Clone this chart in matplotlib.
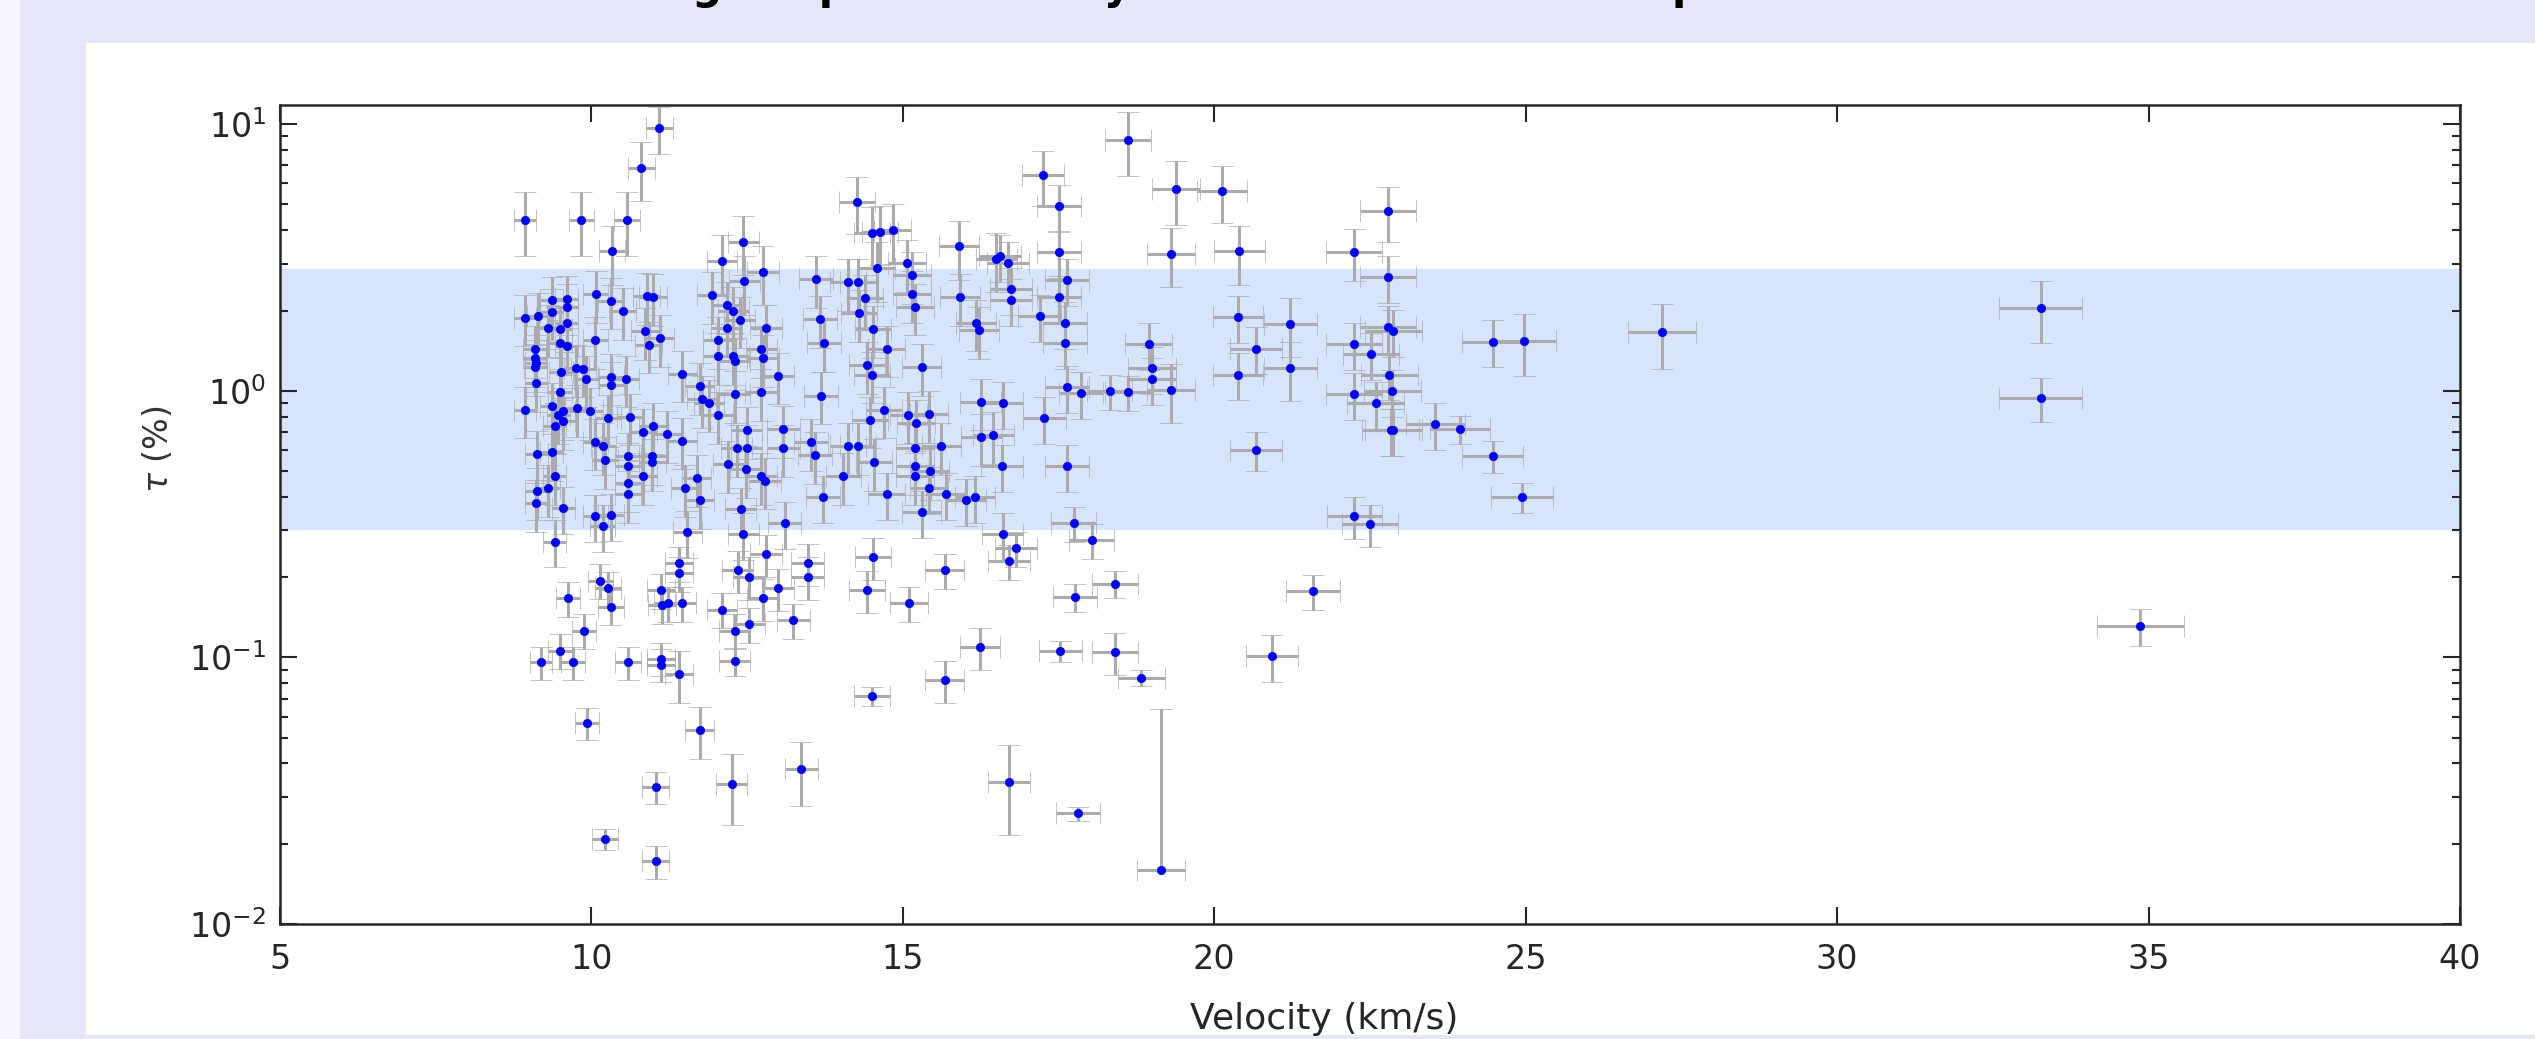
import matplotlib
matplotlib.use("Agg")
import matplotlib.pyplot as plt
from matplotlib.patches import Rectangle
from matplotlib.ticker import LogLocator, NullLocator, NullFormatter
import numpy as np

# velocity (km/s), optical depth tau (%) and relative tau uncertainty, by velocity range
vel_09 = [8.93, 9.84, 8.93, 9.15, 9.36, 9.36, 9.60, 9.60, 9.31, 9.50,
          9.60, 9.50, 9.60, 9.09, 9.11, 9.10, 9.11, 9.09, 9.51, 9.50,
          9.47, 9.55, 9.41, 9.36, 9.54, 9.77, 9.98, 8.93, 9.76, 9.87,
          9.92, 9.12, 9.36, 9.41, 9.31, 9.12, 9.11, 9.55, 9.41, 9.63,
          9.88, 9.50, 9.19, 9.70, 9.93]
tau_09 = [4.38, 4.38, 1.88, 1.90, 2.19, 1.98, 2.21, 2.07, 1.72, 1.70,
          1.79, 1.51, 1.47, 1.43, 1.27, 1.23, 1.07, 1.33, 1.18, 0.99,
          0.81, 0.84, 0.74, 0.88, 0.77, 0.86, 0.84, 0.85, 1.22, 1.21,
          1.11, 0.58, 0.59, 0.48, 0.43, 0.42, 0.379, 0.363, 0.272, 0.167,
          0.126, 0.106, 0.096, 0.096, 0.0569]
err_09 = [.27, .27, .22, .22, .22, .22, .22, .22, .22, .22,
          .22, .22, .22, .22, .22, .22, .22, .22, .22, .22,
          .22, .22, .22, .22, .22, .22, .22, .22, .22, .22,
          .22, .22, .22, .22, .22, .22, .22, .20, .20, .15,
          .15, .15, .14, .14, .14]

vel_10 = [11.09, 10.80, 10.57, 10.33, 10.86, 11.10, 10.92, 10.89, 10.99, 10.07,
          10.31, 10.50, 10.06, 10.56, 10.31, 10.32, 10.27, 10.62, 10.83, 10.99,
          11.21, 11.46, 10.06, 10.19, 10.22, 10.59, 10.59, 10.59, 10.59, 10.98,
          10.98, 10.83, 11.46, 11.50, 10.06, 10.31, 10.18, 10.14, 10.27, 10.31,
          11.12, 11.13, 11.23, 11.45, 11.41, 11.41, 10.59, 11.12, 11.12, 11.41,
          11.03, 10.22, 11.03, 11.54]
tau_10 = [9.67, 6.85, 4.38, 3.33, 1.67, 1.58, 1.49, 2.26, 2.24, 2.31,
          2.18, 1.99, 1.55, 1.11, 1.13, 1.05, 0.79, 0.80, 0.70, 0.74,
          0.69, 0.65, 0.645, 0.62, 0.55, 0.57, 0.52, 0.45, 0.41, 0.57,
          0.54, 0.48, 1.16, 0.43, 0.338, 0.343, 0.311, 0.194, 0.182, 0.155,
          0.179, 0.157, 0.160, 0.160, 0.225, 0.207, 0.096, 0.099, 0.094, 0.0865,
          0.0327, 0.0208, 0.0172, 0.296]
err_10 = [.20, .25, .27, .25, .22, .22, .22, .22, .22, .22,
          .22, .22, .22, .22, .22, .22, .22, .22, .22, .22,
          .22, .22, .22, .22, .22, .22, .22, .22, .22, .22,
          .22, .22, .22, .22, .20, .20, .20, .15, .15, .15,
          .15, .15, .15, .15, .15, .15, .14, .14, .14, .22,
          .14, .09, .14, .20]

vel_12 = [12.44, 12.09, 12.76, 12.45, 13.61, 13.67, 13.73, 13.68, 13.53, 13.59,
          13.08, 13.08, 12.49, 12.49, 12.33, 12.20, 12.48, 12.73, 12.79, 12.04,
          11.74, 11.77, 11.89, 12.30, 12.72, 13.00, 12.04, 12.28, 12.30, 12.73,
          12.76, 12.17, 12.04, 12.81, 11.94, 12.17, 12.28, 12.38, 11.69, 11.74,
          12.40, 12.44, 13.10, 13.72, 12.80, 12.35, 12.53, 13.47, 13.47, 13.00,
          12.75, 12.09, 12.53, 12.30, 13.24, 12.30, 11.74, 13.37, 12.25]
tau_12 = [3.61, 3.07, 2.80, 2.57, 2.63, 1.86, 1.51, 0.96, 0.64, 0.575,
          0.72, 0.61, 0.71, 0.61, 0.61, 0.53, 0.51, 0.48, 0.46, 0.81,
          1.04, 0.93, 0.90, 0.97, 0.99, 1.14, 1.35, 1.35, 1.29, 1.43,
          1.33, 1.72, 1.55, 1.72, 2.28, 2.10, 2.00, 1.85, 0.47, 0.39,
          0.36, 0.29, 0.318, 0.40, 0.244, 0.213, 0.201, 0.225, 0.201, 0.182,
          0.167, 0.151, 0.133, 0.126, 0.138, 0.097, 0.0534, 0.038, 0.0335]
err_12 = [.25, .25, .25, .25, .22, .22, .22, .22, .22, .22,
          .22, .22, .22, .22, .22, .22, .22, .22, .22, .22,
          .22, .22, .22, .22, .22, .22, .22, .22, .22, .22,
          .22, .22, .22, .22, .22, .22, .22, .22, .22, .22,
          .20, .20, .20, .20, .18, .18, .18, .18, .18, .18,
          .18, .15, .15, .15, .15, .12, .22, .27, .30]

vel_14 = [14.26, 14.50, 14.63, 14.84, 15.90, 16.50, 14.12, 14.28, 14.59, 15.07,
          15.15, 15.15, 15.19, 15.92, 14.39, 14.30, 14.52, 14.74, 16.17, 16.22,
          15.30, 14.42, 14.50, 16.25, 14.47, 14.70, 15.09, 15.21, 15.42, 16.26,
          16.45, 15.19, 15.62, 14.12, 14.28, 14.54, 14.04, 15.19, 15.19, 15.43,
          14.74, 15.42, 15.69, 16.16, 16.02, 15.30, 16.60, 16.81, 16.70, 14.52,
          14.42, 15.67, 15.10, 16.24, 15.67, 14.51, 16.70, 16.56, 16.69, 16.74,
          16.74, 16.60, 16.59]
tau_14 = [5.09, 3.90, 3.95, 4.00, 3.48, 3.12, 2.55, 2.55, 2.88, 3.01,
          2.72, 2.30, 2.07, 2.25, 2.23, 1.96, 1.70, 1.44, 1.80, 1.69,
          1.23, 1.25, 1.15, 0.91, 0.78, 0.85, 0.81, 0.76, 0.82, 0.67,
          0.68, 0.61, 0.62, 0.62, 0.62, 0.54, 0.48, 0.52, 0.48, 0.50,
          0.41, 0.43, 0.41, 0.40, 0.39, 0.352, 0.290, 0.257, 0.230, 0.238,
          0.179, 0.213, 0.160, 0.109, 0.082, 0.0714, 0.0342, 3.19, 3.01, 2.40,
          2.19, 0.90, 0.52]
err_14 = [.24, .25, .25, .25, .25, .25, .22, .22, .25, .22,
          .22, .22, .22, .22, .22, .22, .22, .22, .22, .22,
          .22, .22, .22, .22, .22, .22, .22, .22, .22, .22,
          .22, .22, .22, .22, .22, .22, .22, .22, .22, .22,
          .20, .20, .20, .20, .20, .20, .20, .15, .15, .18,
          .18, .15, .15, .18, .18, .08, .37, .20, .20, .20,
          .20, .20, .20]

vel_17 = [18.61, 17.25, 17.51, 17.51, 19.38, 20.13, 19.30, 20.40, 22.79, 22.24,
          22.79, 17.63, 17.51, 17.20, 17.61, 17.61, 20.38, 21.22, 20.67, 20.38,
          21.22, 18.95, 19.00, 19.00, 19.30, 18.61, 18.32, 17.86, 17.64, 17.27,
          17.64, 20.67, 22.79, 22.87, 22.24, 22.51, 22.81, 22.86, 22.24, 22.59,
          22.83, 22.87, 23.55, 23.94, 24.47, 24.47, 24.98, 24.94, 22.25, 22.50,
          21.59, 20.92, 19.15, 18.41, 18.83, 17.81, 17.53, 17.74, 18.03, 18.41,
          17.76]
tau_17 = [8.75, 6.43, 4.92, 3.31, 5.71, 5.60, 3.27, 3.33, 4.71, 3.31,
          2.66, 2.61, 2.24, 1.91, 1.79, 1.51, 1.89, 1.78, 1.44, 1.15,
          1.22, 1.50, 1.22, 1.11, 1.01, 0.99, 1.00, 0.98, 1.03, 0.79,
          0.52, 0.60, 1.73, 1.67, 1.50, 1.37, 1.15, 1.00, 0.97, 0.90,
          0.71, 0.71, 0.75, 0.72, 0.57, 1.53, 1.54, 0.40, 0.34, 0.317,
          0.177, 0.101, 0.016, 0.105, 0.084, 0.026, 0.1057, 0.318, 0.276, 0.189,
          0.168]
err_17 = [.27, .23, .20, .20, .27, .24, .25, .25, .23, .22,
          .20, .20, .20, .20, .20, .20, .20, .25, .20, .20,
          .25, .20, .20, .20, .25, .15, .15, .20, .20, .20,
          .20, .17, .20, .20, .20, .20, .20, .20, .20, .20,
          .20, .20, .20, .12, .14, .20, .26, .13, .18, .18,
          .15, .20, 3.0, .18, .07, .06, .09, .15, .15, .12,
          .12]

vel_27 = [27.19, 33.27, 33.27, 34.87]
tau_27 = [1.66, 2.04, 0.94, 0.131]
err_27 = [.27, .26, .19, .16]

vel_rel_err = 0.02            # velocity uncertainty, fraction of value
band_low, band_high = 0.3, 2.87

title = "Shielding vs. peak velocity for each detected component"

velocity = np.array(vel_09 + vel_10 + vel_12 + vel_14 + vel_17 + vel_27)
tau = np.array(tau_09 + tau_10 + tau_12 + tau_14 + tau_17 + tau_27)
tau_err = tau * np.array(err_09 + err_10 + err_12 + err_14 + err_17 + err_27)
vel_err = velocity * vel_rel_err
# lower bars that would cross zero cannot be shown on a log axis
tau_err_low = np.where(tau_err < tau, tau_err, 0.0)

W, H = 2535, 1039
fig = plt.figure(figsize=(W / 100, H / 100), dpi=100, facecolor="#e6e6fa")
fig.add_artist(Rectangle((0, 0), 20 / W, 1, transform=fig.transFigure,
                         facecolor="#f6f6fe", edgecolor="none", zorder=-2))
fig.add_artist(Rectangle((86 / W, 4 / H), 1 - 86 / W, (1036 - 44) / H,
                         transform=fig.transFigure, facecolor="white",
                         edgecolor="none", zorder=-1))
# page heading sits above the top edge, only its descenders show
fig.text(502 / W, 1 + 1 / H, title, ha="left", va="baseline",
         fontsize=30, fontweight="bold", color="black")

ax = fig.add_axes([280 / W, 1 - 924 / H, (2460 - 280) / W, (924 - 105) / H])
ax.set_facecolor("white")
ax.axhspan(band_low, band_high, color="#d6e4fc", lw=0, zorder=0.5)
ax.errorbar(velocity, tau, xerr=vel_err, yerr=[tau_err_low, tau_err],
            fmt="o", ms=6, mfc="#0000ff", mec="#0000ff", mew=0.5,
            ecolor="#ababab", elinewidth=2.2, capsize=8, capthick=2.2,
            zorder=2)

ax.set_yscale("log")
ax.set_xlim(5, 40)
ax.set_ylim(1e-2, 11.8)
ax.set_xticks(np.arange(5, 41, 5))
ax.xaxis.set_minor_locator(NullLocator())
ax.yaxis.set_major_locator(LogLocator(base=10, numticks=10))
ax.yaxis.set_minor_locator(LogLocator(base=10, subs=np.arange(2, 10), numticks=10))
ax.yaxis.set_minor_formatter(NullFormatter())

ax.tick_params(which="both", direction="in", top=True, right=True,
               colors="#262626", labelcolor="#262626", labelsize=24, width=1.5)
ax.tick_params(which="major", length=12)
ax.tick_params(axis="x", which="major", pad=14)
ax.tick_params(axis="y", which="major", pad=10)
ax.tick_params(which="minor", length=6)
for s in ax.spines.values():
    s.set_linewidth(1.8)
    s.set_color("#262626")

ax.set_xlabel("Velocity (km/s)", fontsize=26, color="#262626")
ax.xaxis.set_label_coords(0.479, -0.095)
ax.set_ylabel(r"$\tau$ (%)", fontsize=24, color="#333333")
ax.yaxis.set_label_coords(-0.048, 0.58)

fig.savefig("out.png", dpi=100, facecolor=fig.get_facecolor())
